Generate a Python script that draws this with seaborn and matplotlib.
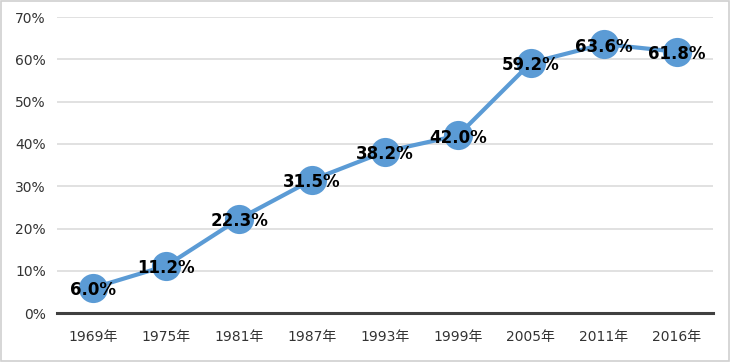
import pandas as pd
import matplotlib
matplotlib.use("Agg")
import matplotlib.pyplot as plt
import seaborn as sns
from matplotlib.patches import Rectangle
from matplotlib.ticker import PercentFormatter

# datos
anios = ["1969年", "1975年", "1981年", "1987年", "1993年", "1999年", "2005年", "2011年", "2016年"]
valores = [6.0, 11.2, 22.3, 31.5, 38.2, 42.0, 59.2, 63.6, 61.8]

df = pd.DataFrame({"anio": anios, "valor": valores})
df["pos"] = range(len(df))

sns.set_style("white")
plt.rcParams["font.family"] = ["DejaVu Sans", "Noto Sans CJK JP"]

fig = plt.figure(figsize=(7.3, 3.62), dpi=100)
ax = fig.add_axes([0.078, 0.135, 0.899, 0.818])

azul = "#5B9BD5"
sns.lineplot(data=df, x="pos", y="valor", ax=ax, color=azul, linewidth=3,
             marker="o", markersize=21, markeredgewidth=0, zorder=3)

for _, r in df.iterrows():
    ax.text(r["pos"], r["valor"] - 0.6, f"{r['valor']:.1f}%", ha="center", va="center",
            fontsize=12, fontweight="bold", color="black", zorder=4)

ax.set_xlim(-0.5, len(df) - 0.5)
ax.set_ylim(0, 70)
ax.set_yticks(range(0, 71, 10))
ax.yaxis.set_major_formatter(PercentFormatter(decimals=0))
ax.set_xticks(df["pos"])
ax.set_xticklabels(anios)
ax.set_xlabel("")
ax.set_ylabel("")
ax.grid(axis="y", color="#dcdcdc", linewidth=1.2)
ax.grid(axis="x", visible=False)
ax.set_axisbelow(True)
for s in ["top", "right", "left"]:
    ax.spines[s].set_visible(False)
ax.spines["bottom"].set_color("#404040")
ax.spines["bottom"].set_linewidth(2.2)
ax.tick_params(axis="both", length=0, labelsize=10, colors="#333333", pad=8)
ax.tick_params(axis="x", pad=12)

# borde de la figura
fig.patches.append(Rectangle((0.001, 0.002), 0.997, 0.995, transform=fig.transFigure,
                             fill=False, edgecolor="#d0d0d0", linewidth=1.2))

plt.savefig("out.png", dpi=100)
